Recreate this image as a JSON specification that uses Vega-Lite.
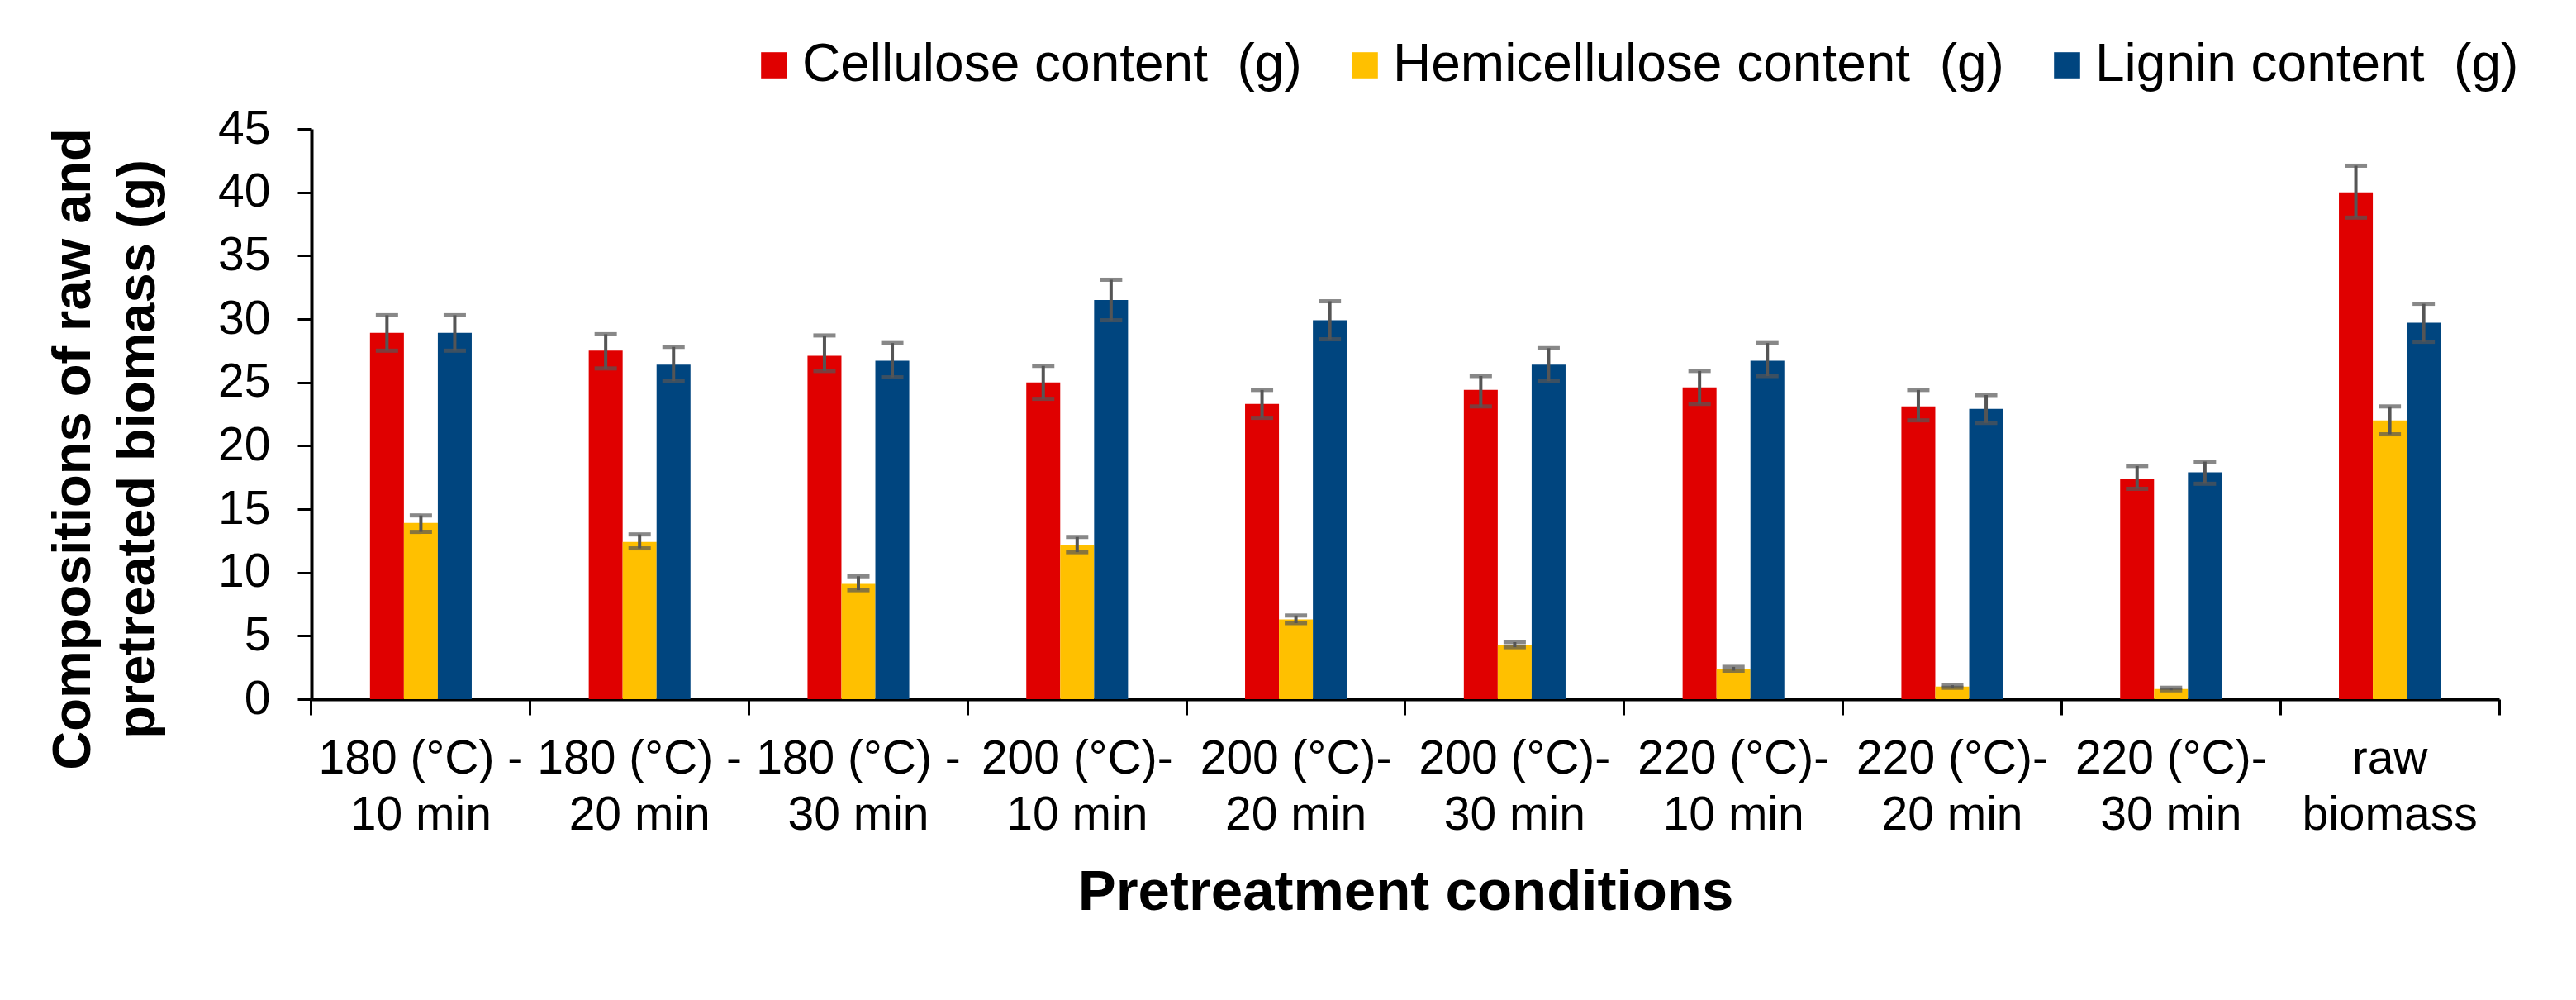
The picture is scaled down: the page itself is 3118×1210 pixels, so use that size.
{
  "$schema": "https://vega.github.io/schema/vega-lite/v6.json",
  "width": 2648,
  "height": 690,
  "autosize": {"type": "none"},
  "padding": {"left": 377, "top": 156, "right": 93, "bottom": 364},
  "background": "white",
  "config": {"view": {"stroke": null}, "font": "Liberation Sans"},
  "data": {"values": [
    {"cond": "180 (°C) -|10 min", "comp": "Cellulose content\u00a0 (g)", "value": 28.9, "lo": 27.5, "hi": 30.3},
    {"cond": "180 (°C) -|10 min", "comp": "Hemicellulose content\u00a0 (g)", "value": 13.9, "lo": 13.2, "hi": 14.5},
    {"cond": "180 (°C) -|10 min", "comp": "Lignin content\u00a0 (g)", "value": 28.9, "lo": 27.5, "hi": 30.3},
    {"cond": "180 (°C) -|20 min", "comp": "Cellulose content\u00a0 (g)", "value": 27.5, "lo": 26.1, "hi": 28.8},
    {"cond": "180 (°C) -|20 min", "comp": "Hemicellulose content\u00a0 (g)", "value": 12.4, "lo": 11.9, "hi": 13.0},
    {"cond": "180 (°C) -|20 min", "comp": "Lignin content\u00a0 (g)", "value": 26.4, "lo": 25.1, "hi": 27.8},
    {"cond": "180 (°C) -|30 min", "comp": "Cellulose content\u00a0 (g)", "value": 27.1, "lo": 25.9, "hi": 28.7},
    {"cond": "180 (°C) -|30 min", "comp": "Hemicellulose content\u00a0 (g)", "value": 9.1, "lo": 8.6, "hi": 9.7},
    {"cond": "180 (°C) -|30 min", "comp": "Lignin content\u00a0 (g)", "value": 26.7, "lo": 25.4, "hi": 28.1},
    {"cond": "200 (°C)-|10 min", "comp": "Cellulose content\u00a0 (g)", "value": 25.0, "lo": 23.7, "hi": 26.3},
    {"cond": "200 (°C)-|10 min", "comp": "Hemicellulose content\u00a0 (g)", "value": 12.2, "lo": 11.6, "hi": 12.8},
    {"cond": "200 (°C)-|10 min", "comp": "Lignin content\u00a0 (g)", "value": 31.5, "lo": 29.9, "hi": 33.1},
    {"cond": "200 (°C)-|20 min", "comp": "Cellulose content\u00a0 (g)", "value": 23.3, "lo": 22.2, "hi": 24.4},
    {"cond": "200 (°C)-|20 min", "comp": "Hemicellulose content\u00a0 (g)", "value": 6.3, "lo": 6.0, "hi": 6.6},
    {"cond": "200 (°C)-|20 min", "comp": "Lignin content\u00a0 (g)", "value": 29.9, "lo": 28.4, "hi": 31.4},
    {"cond": "200 (°C)-|30 min", "comp": "Cellulose content\u00a0 (g)", "value": 24.4, "lo": 23.1, "hi": 25.5},
    {"cond": "200 (°C)-|30 min", "comp": "Hemicellulose content\u00a0 (g)", "value": 4.3, "lo": 4.1, "hi": 4.5},
    {"cond": "200 (°C)-|30 min", "comp": "Lignin content\u00a0 (g)", "value": 26.4, "lo": 25.1, "hi": 27.7},
    {"cond": "220 (°C)-|10 min", "comp": "Cellulose content\u00a0 (g)", "value": 24.6, "lo": 23.3, "hi": 25.9},
    {"cond": "220 (°C)-|10 min", "comp": "Hemicellulose content\u00a0 (g)", "value": 2.4, "lo": 2.25, "hi": 2.55},
    {"cond": "220 (°C)-|10 min", "comp": "Lignin content\u00a0 (g)", "value": 26.7, "lo": 25.5, "hi": 28.1},
    {"cond": "220 (°C)-|20 min", "comp": "Cellulose content\u00a0 (g)", "value": 23.1, "lo": 22.0, "hi": 24.4},
    {"cond": "220 (°C)-|20 min", "comp": "Hemicellulose content\u00a0 (g)", "value": 1.0, "lo": 0.9, "hi": 1.1},
    {"cond": "220 (°C)-|20 min", "comp": "Lignin content\u00a0 (g)", "value": 22.9, "lo": 21.8, "hi": 24.0},
    {"cond": "220 (°C)-|30 min", "comp": "Cellulose content\u00a0 (g)", "value": 17.4, "lo": 16.6, "hi": 18.4},
    {"cond": "220 (°C)-|30 min", "comp": "Hemicellulose content\u00a0 (g)", "value": 0.8, "lo": 0.7, "hi": 0.9},
    {"cond": "220 (°C)-|30 min", "comp": "Lignin content\u00a0 (g)", "value": 17.9, "lo": 17.0, "hi": 18.75},
    {"cond": "raw|biomass", "comp": "Cellulose content\u00a0 (g)", "value": 40.0, "lo": 38.0, "hi": 42.1},
    {"cond": "raw|biomass", "comp": "Hemicellulose content\u00a0 (g)", "value": 22.0, "lo": 20.9, "hi": 23.1},
    {"cond": "raw|biomass", "comp": "Lignin content\u00a0 (g)", "value": 29.7, "lo": 28.2, "hi": 31.2}
  ]},
  "layer": [
    {
      "mark": {"type": "bar"},
      "encoding": {
        "x": {"field": "cond", "type": "nominal", "sort": null,
          "scale": {"paddingInner": 0.535, "paddingOuter": 0.2675},
          "axis": {"orient": "bottom", "bandPosition": -0.5753, "labelExpr": "split(datum.label, '|')",
            "labelAngle": 0, "labelFontSize": 57, "labelLineHeight": 68, "labelPadding": 25, "labelColor": "black",
            "labelFont": "Liberation Sans", "labelLimit": 1000, "labelOverlap": false,
            "tickSize": 19, "tickWidth": 3, "tickColor": "black", "domainColor": "black", "domainWidth": 4, "grid": false,
            "title": "Pretreatment conditions", "titleFontSize": 69, "titleFontWeight": "bold", "titleFont": "Liberation Sans",
            "titleColor": "black", "titleBaseline": "alphabetic", "titleY": 254}},
        "xOffset": {"field": "comp", "type": "nominal",
          "sort": ["Cellulose content\u00a0 (g)", "Hemicellulose content\u00a0 (g)", "Lignin content\u00a0 (g)"],
          "scale": {"paddingInner": 0, "paddingOuter": 0}},
        "y": {"field": "value", "type": "quantitative", "scale": {"domain": [0, 45], "nice": false},
          "axis": {"values": [0, 5, 10, 15, 20, 25, 30, 35, 40, 45],
            "title": ["Compositions of raw and", "pretreated biomass (g)"], "titleFontSize": 65, "titleFontWeight": "bold",
            "titleFont": "Liberation Sans", "titleColor": "black", "titleAngle": -90, "titleX": -269, "titleY": 387,
            "titleAlign": "center", "titleBaseline": "alphabetic", "titleLineHeight": 78,
            "labelFontSize": 57, "labelColor": "black", "labelFont": "Liberation Sans", "labelPadding": 33,
            "tickSize": 17, "tickWidth": 3, "tickColor": "black", "domainColor": "black", "domainWidth": 4, "grid": false}},
        "color": {"field": "comp", "type": "nominal",
          "scale": {"domain": ["Cellulose content\u00a0 (g)", "Hemicellulose content\u00a0 (g)", "Lignin content\u00a0 (g)"],
                    "range": ["#e00000", "#ffc000", "#00457f"]},
          "legend": {"orient": "none", "legendX": 528, "legendY": -109, "direction": "horizontal", "title": null,
            "symbolType": "square", "symbolSize": 1000, "symbolStrokeWidth": 0, "labelFontSize": 64,
            "labelFont": "Liberation Sans", "labelColor": "black", "labelOffset": 2, "columnPadding": 44,
            "labelLimit": 1000, "padding": 0}}
      }
    },
    {
      "mark": {"type": "rule", "color": "#555555", "strokeWidth": 4},
      "encoding": {
        "x": {"field": "cond", "type": "nominal", "sort": null,
          "axis": {"orient": "bottom", "bandPosition": 1.5753, "values": ["raw|biomass"], "labels": false, "domain": false,
            "title": null, "tickSize": 19, "tickWidth": 3, "tickColor": "black", "grid": false}},
        "xOffset": {"field": "comp", "type": "nominal",
          "sort": ["Cellulose content\u00a0 (g)", "Hemicellulose content\u00a0 (g)", "Lignin content\u00a0 (g)"]},
        "y": {"field": "lo", "type": "quantitative"},
        "y2": {"field": "hi"}
      }
    },
    {
      "mark": {"type": "tick", "color": "#555555", "size": 27, "thickness": 5},
      "encoding": {
        "x": {"field": "cond", "type": "nominal", "sort": null, "axis": null},
        "xOffset": {"field": "comp", "type": "nominal",
          "sort": ["Cellulose content\u00a0 (g)", "Hemicellulose content\u00a0 (g)", "Lignin content\u00a0 (g)"]},
        "y": {"field": "lo", "type": "quantitative"}
      }
    },
    {
      "mark": {"type": "tick", "color": "#555555", "size": 27, "thickness": 5},
      "encoding": {
        "x": {"field": "cond", "type": "nominal", "sort": null, "axis": null},
        "xOffset": {"field": "comp", "type": "nominal",
          "sort": ["Cellulose content\u00a0 (g)", "Hemicellulose content\u00a0 (g)", "Lignin content\u00a0 (g)"]},
        "y": {"field": "hi", "type": "quantitative"}
      }
    }
  ],
  "resolve": {"axis": {"x": "independent"}}
}
